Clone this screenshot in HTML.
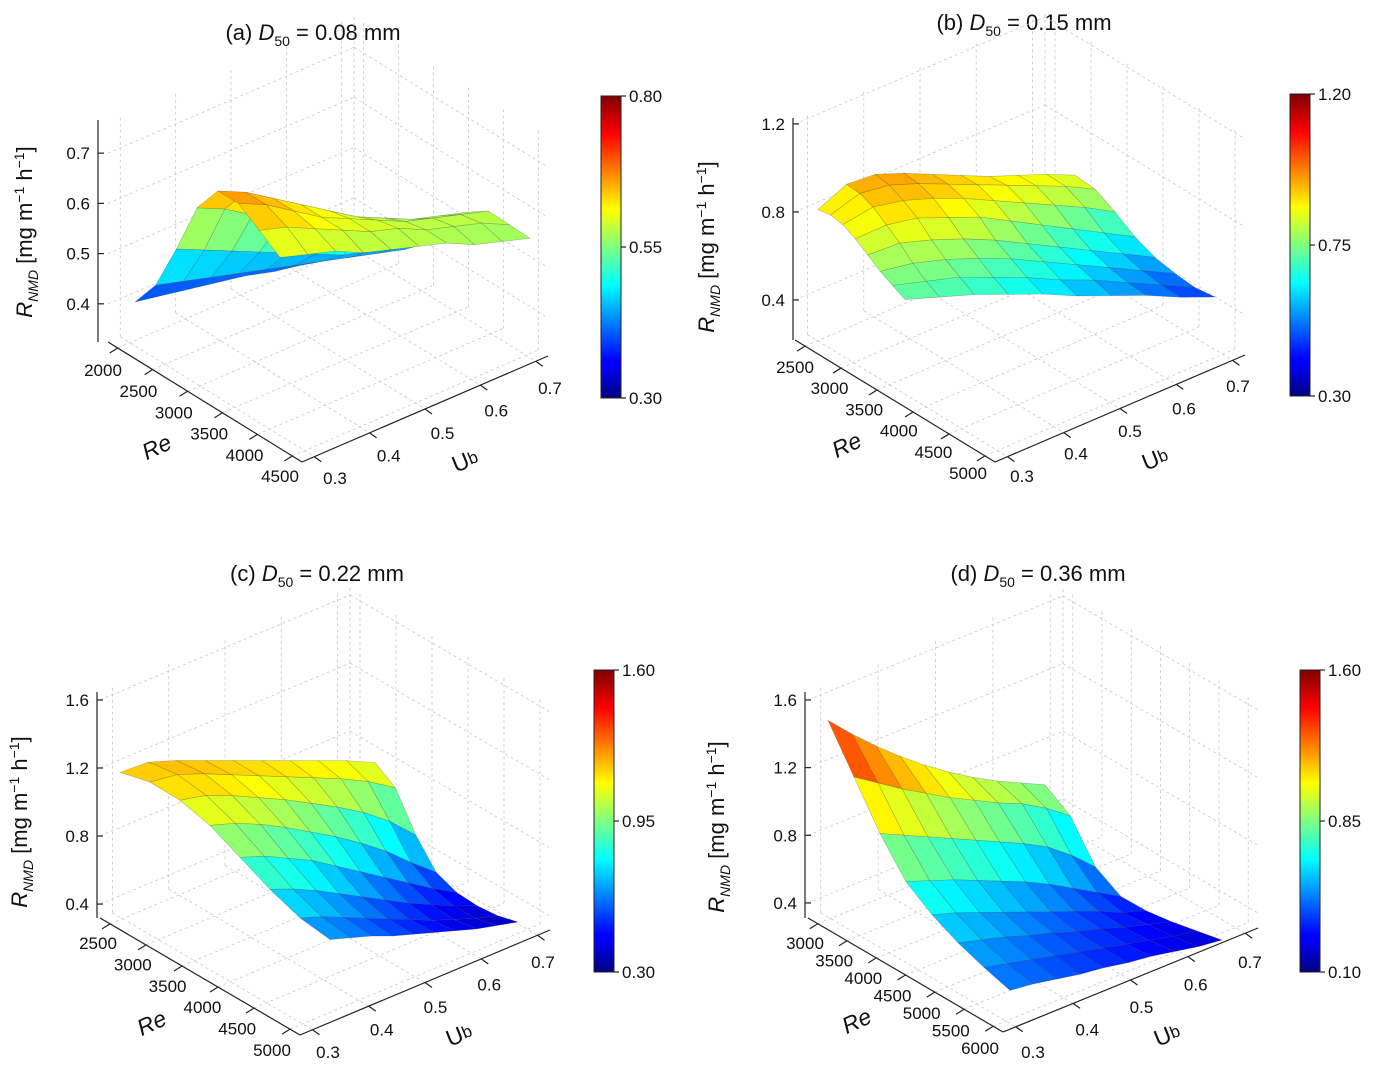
<!DOCTYPE html>
<html><head><meta charset="utf-8">
<style>
html,body{margin:0;padding:0;background:#fff;}
svg{display:block;font-family:"Liberation Sans",sans-serif;}
</style></head>
<body>
<svg id="fig" width="1375" height="1073" viewBox="0 0 1375 1073" xmlns="http://www.w3.org/2000/svg">
<defs>
<linearGradient id="jet" x1="0" y1="1" x2="0" y2="0">
<stop offset="0" stop-color="#00007f"/><stop offset="0.11" stop-color="#0000ff"/>
<stop offset="0.125" stop-color="#0000ff"/><stop offset="0.375" stop-color="#00ffff"/>
<stop offset="0.625" stop-color="#ffff00"/><stop offset="0.875" stop-color="#ff0000"/>
<stop offset="1" stop-color="#7f0000"/>
</linearGradient>
</defs>
<g font-size="22" fill="#111" text-anchor="middle">
<text x="313" y="40">(a) <tspan font-style="italic">D</tspan><tspan font-size="14" dy="6">50</tspan><tspan dy="-6"> = 0.08 mm</tspan></text>
<text x="1024" y="30">(b) <tspan font-style="italic">D</tspan><tspan font-size="14" dy="6">50</tspan><tspan dy="-6"> = 0.15 mm</tspan></text>
<text x="317" y="581">(c) <tspan font-style="italic">D</tspan><tspan font-size="14" dy="6">50</tspan><tspan dy="-6"> = 0.22 mm</tspan></text>
<text x="1038" y="581">(d) <tspan font-style="italic">D</tspan><tspan font-size="14" dy="6">50</tspan><tspan dy="-6"> = 0.36 mm</tspan></text>
</g>
<g id="layer"></g>
</svg>
<script>
// ---- data ----
const reTicksA = ["2000","2500","3000","3500","4000","4500"];
const reTicksB = ["2500","3000","3500","4000","4500","5000"];
const reTicksC = ["2500","3000","3500","4000","4500","5000"];
const reTicksD = ["3000","3500","4000","4500","5000","5500","6000"];
const ubTicks = ["0.3","0.4","0.5","0.6","0.7"];
const zTicksA = [0.4,0.5,0.6,0.7];
const zTicksB = [0.4,0.8,1.2];
const zTicksC = [0.4,0.8,1.2,1.6];
const zTicksD = [0.4,0.8,1.2,1.6];
const cbarA = ["0.80","0.55","0.30"];
const cbarB = ["1.20","0.75","0.30"];
const cbarC = ["1.60","0.95","0.30"];
const cbarD = ["1.60","0.85","0.10"];
const surfA = [
[0.38,0.385,0.39,0.395,0.40,0.40,0.405,0.41,0.41,0.42],
[0.43,0.43,0.43,0.43,0.43,0.43,0.43,0.43,0.43,0.43],
[0.52,0.51,0.50,0.49,0.48,0.47,0.46,0.46,0.46,0.46],
[0.62,0.61,0.59,0.57,0.55,0.53,0.52,0.51,0.50,0.50],
[0.67,0.66,0.64,0.62,0.60,0.58,0.57,0.56,0.56,0.56],
[0.66,0.65,0.63,0.61,0.60,0.59,0.58,0.58,0.58,0.58],
[0.62,0.62,0.61,0.60,0.59,0.59,0.58,0.58,0.58,0.57],
[0.58,0.58,0.58,0.57,0.57,0.57,0.57,0.56,0.56,0.56]];
const surfB = [
[0.82,0.92,0.95,0.94,0.92,0.90,0.88,0.87,0.86,0.84],
[0.84,0.92,0.94,0.93,0.91,0.89,0.87,0.85,0.83,0.80],
[0.84,0.90,0.91,0.90,0.88,0.85,0.82,0.79,0.76,0.72],
[0.82,0.86,0.87,0.85,0.83,0.79,0.75,0.71,0.67,0.63],
[0.79,0.82,0.81,0.79,0.76,0.72,0.68,0.64,0.60,0.56],
[0.76,0.77,0.76,0.74,0.71,0.67,0.63,0.59,0.55,0.51],
[0.74,0.73,0.72,0.69,0.66,0.62,0.59,0.55,0.51,0.47],
[0.72,0.70,0.68,0.65,0.62,0.58,0.55,0.52,0.48,0.45]];
const surfC = [
[1.15,1.20,1.20,1.19,1.18,1.17,1.16,1.15,1.14,1.12],
[1.16,1.19,1.18,1.16,1.14,1.12,1.10,1.08,1.05,1.00],
[1.12,1.13,1.11,1.08,1.05,1.01,0.97,0.92,0.85,0.75],
[1.04,1.03,1.00,0.96,0.91,0.86,0.80,0.73,0.64,0.56],
[0.92,0.90,0.86,0.82,0.76,0.70,0.64,0.58,0.52,0.47],
[0.80,0.77,0.73,0.68,0.63,0.58,0.53,0.49,0.45,0.42],
[0.70,0.67,0.63,0.59,0.55,0.51,0.47,0.44,0.41,0.39],
[0.64,0.61,0.58,0.54,0.51,0.48,0.45,0.42,0.40,0.38]];
const surfD = [
[1.45,1.35,1.26,1.18,1.11,1.05,1.00,0.96,0.93,0.90],
[1.20,1.14,1.08,1.03,0.98,0.94,0.90,0.87,0.82,0.75],
[0.95,0.91,0.87,0.83,0.79,0.75,0.71,0.66,0.58,0.48],
[0.75,0.72,0.69,0.65,0.61,0.57,0.52,0.46,0.40,0.34],
[0.64,0.61,0.57,0.53,0.49,0.45,0.41,0.37,0.32,0.29],
[0.56,0.53,0.50,0.46,0.43,0.39,0.36,0.32,0.29,0.26],
[0.50,0.47,0.44,0.41,0.38,0.35,0.32,0.29,0.26,0.24],
[0.45,0.43,0.40,0.37,0.35,0.32,0.30,0.27,0.24,0.22]];

// ---- layout ----
const panels = [
 {id:"a",surf:surfA,re:reTicksA,zt:zTicksA,cb:cbarA,clim:[0.3,0.8],
  F0:[108,342],F1:[302,462],F2:[548,356],H:222,zr:[0.324,0.766],zx:78,
  reL:[[103,376],[280,482]],ubL:[[335,484],[550,394]],
  S:{A:[135,487],B:[385,450],C:[530,511],D:[280,540],k:487},
  cbx:601,cby:96,reLab:[160,454,-25],ubLab:[468,468,-22],zLab:[32,232]},
 {id:"b",surf:surfB,re:reTicksB,zt:zTicksB,cb:cbarB,clim:[0.3,1.2],
  F0:[795,340],F1:[995,462],F2:[1245,355],H:222,zr:[0.218,1.227],zx:773,
  reL:[[795,373],[968,479]],ubL:[[1022,482],[1238,392]],
  S:{A:[818,390],B:[1075,360],C:[1215,396],D:[905,458],k:220},
  cbx:1290,cby:94,reLab:[850,452,-25],ubLab:[1158,466,-22],zLab:[714,247]},
 {id:"c",surf:surfC,re:reTicksC,zt:zTicksC,cb:cbarC,clim:[0.3,1.6],
  F0:[100,918],F1:[300,1035],F2:[550,930],H:226,zr:[0.318,1.647],zx:77,
  reL:[[98,949],[272,1056]],ubL:[[328,1058],[543,968]],
  S:{A:[120,969],B:[375,954],C:[518,987],D:[330,1049],k:171},
  cbx:594,cby:670,reLab:[155,1030,-25],ubLab:[462,1042,-22],zLab:[27,822]},
 {id:"d",surf:surfD,re:reTicksD,zt:zTicksD,cb:cbarD,clim:[0.1,1.6],
  F0:[808,918],F1:[1003,1032],F2:[1258,928],H:226,zr:[0.311,1.647],zx:785,
  reL:[[805,949],[980,1054]],ubL:[[1033,1058],[1250,968]],
  S:{A:[828,964],B:[1045,936],C:[1222,977],D:[1010,1066],k:168},
  cbx:1300,cby:670,reLab:[860,1028,-25],ubLab:[1170,1042,-22],zLab:[724,827]}
];

const NS="http://www.w3.org/2000/svg";
const layer=document.getElementById("layer");
function mk(tag,attrs,parent){const e=document.createElementNS(NS,tag);for(const k in attrs)e.setAttribute(k,attrs[k]);(parent||layer).appendChild(e);return e;}
function jet(t){t=Math.max(0,Math.min(1,t));const c=x=>Math.round(255*Math.max(0,Math.min(1,1.5-Math.abs(x))));return `rgb(${c(4*t-3)},${c(4*t-2)},${c(4*t-1)})`;}

panels.forEach(p=>{
 const g=mk("g",{});
 
 
 const fp=(u,v)=>[p.F0[0]+u*(p.F1[0]-p.F0[0])+v*(p.F2[0]-p.F1[0]), p.F0[1]+u*(p.F1[1]-p.F0[1])+v*(p.F2[1]-p.F1[1])];
 const zy=z=>(z-p.zr[0])/(p.zr[1]-p.zr[0])*p.H;
 const nR=p.re.length,nU=ubTicks.length;
 const uT=k=>0.05+0.9*k/(nR-1), vT=k=>0.05+0.9*k/(nU-1);
 const grid=mk("g",{stroke:"#c8c8c8","stroke-width":0.8,"stroke-dasharray":"3,3",fill:"none"},g);
 
 
 const ln=(a,b,par)=>mk("line",{x1:a[0],y1:a[1],x2:b[0],y2:b[1]},par);
 for(let k=0;k<nU;k++){const a=fp(0,vT(k));ln(a,[a[0],a[1]-p.H],grid);ln(a,fp(1,vT(k)),grid);}
 for(let k=0;k<nR;k++){const a=fp(uT(k),1);ln(a,[a[0],a[1]-p.H],grid);ln(fp(uT(k),0),a,grid);}
 p.zt.forEach(z=>{const a=fp(0,0),b=fp(0,1),c=fp(1,1),h=zy(z);ln([a[0],a[1]-h],[b[0],b[1]-h],grid);ln([b[0],b[1]-h],[c[0],c[1]-h],grid);});
 const b3=fp(0,1);ln([b3[0],b3[1]],[b3[0],b3[1]-p.H],grid);
 const ax=mk("g",{stroke:"#222","stroke-width":1.2,fill:"none"},g);
 
 
 const o=fp(0,0);
 ln([p.zx+20,o[1]],[p.zx+20,o[1]-p.H],ax);
 p.zt.forEach(z=>{const y=o[1]-zy(z);ln([p.zx+20,y],[p.zx+26,y],ax);
  const t=mk("text",{x:p.zx+12,y:y+6,"font-size":17,"text-anchor":"end",fill:"#111",stroke:"none"},g);t.textContent=z.toFixed(1);
  
  });
 ln(fp(0,0),fp(1,0),ax);ln(fp(1,0),fp(1,1),ax);
 p.re.forEach((s,k)=>{const a=fp(uT(k),0);ln(a,[a[0]-8,a[1]+5],ax);
  const f=k/(nR-1),x=p.reL[0][0]+f*(p.reL[1][0]-p.reL[0][0]),y=p.reL[0][1]+f*(p.reL[1][1]-p.reL[0][1]);
  const t=mk("text",{x:x,y:y,"font-size":17,"text-anchor":"middle",fill:"#111"},g);t.textContent=s;
  
  });
 ubTicks.forEach((s,k)=>{const a=fp(1,vT(k));ln(a,[a[0]+7,a[1]+5],ax);
  const f=k/(nU-1),x=p.ubL[0][0]+f*(p.ubL[1][0]-p.ubL[0][0]),y=p.ubL[0][1]+f*(p.ubL[1][1]-p.ubL[0][1]);
  const t=mk("text",{x:x,y:y,"font-size":17,"text-anchor":"middle",fill:"#111"},g);t.textContent=s;
  
  });
 const S=p.S,R=p.surf.length,C=p.surf[0].length;
 const base=(u,v)=>[(1-u)*(1-v)*S.A[0]+(1-u)*v*S.B[0]+u*v*S.C[0]+u*(1-v)*S.D[0],(1-u)*(1-v)*S.A[1]+(1-u)*v*S.B[1]+u*v*S.C[1]+u*(1-v)*S.D[1]];
 const P=(i,j)=>{const b=base(i/(R-1),j/(C-1));return [b[0],b[1]-p.surf[i][j]*S.k];};
 const quads=[];
 for(let i=0;i<R-1;i++)for(let j=0;j<C-1;j++){
  const pts=[P(i,j),P(i,j+1),P(i+1,j+1),P(i+1,j)];
  const zm=(p.surf[i][j]+p.surf[i][j+1]+p.surf[i+1][j+1]+p.surf[i+1][j])/4;
  quads.push({pts,zm,d:base((i+0.5)/(R-1),(j+0.5)/(C-1))[1]});}
 quads.sort((a,b)=>a.d-b.d);
 const sg=mk("g",{},g);
 
 
 quads.forEach(q=>{const col=jet((q.zm-p.clim[0])/(p.clim[1]-p.clim[0]));
  const e=mk("polygon",{points:q.pts.map(a=>a.join(",")).join(" "),fill:col,stroke:"rgba(60,60,60,0.35)","stroke-width":0.6},sg);
  
  });
 const cb=mk("rect",{x:p.cbx,y:p.cby,width:20,height:302,fill:"url(#jet)",stroke:"#222","stroke-width":1},g);
 
 
 p.cb.forEach((s,k)=>{const y=p.cby+k*151;ln([p.cbx+20,y],[p.cbx+25,y],ax);
  const t=mk("text",{x:p.cbx+28,y:y+6,"font-size":17,fill:"#111"},g);t.textContent=s;
  
  });
 const rt=mk("text",{x:p.reLab[0],y:p.reLab[1],"font-size":23,"font-style":"italic","text-anchor":"middle",fill:"#111",transform:`rotate(${p.reLab[2]} ${p.reLab[0]} ${p.reLab[1]})`},g);rt.textContent="Re";
 
 
 const ut=mk("text",{x:p.ubLab[0],y:p.ubLab[1],"font-size":23,"text-anchor":"middle",fill:"#111",transform:`rotate(${p.ubLab[2]} ${p.ubLab[0]} ${p.ubLab[1]})`},g);
 ut.innerHTML='U<tspan font-size="17" dy="-2">b</tspan>';
 
 
 const zt=mk("text",{x:p.zLab[0],y:p.zLab[1],"font-size":22,"text-anchor":"middle",fill:"#111",transform:`rotate(-90 ${p.zLab[0]} ${p.zLab[1]})`},g);
 zt.innerHTML='<tspan font-style="italic">R</tspan><tspan font-size="14" font-style="italic" dy="6">NMD</tspan><tspan dy="-6"> [mg m</tspan><tspan font-size="14" dy="-8">−1</tspan><tspan dy="8"> h</tspan><tspan font-size="14" dy="-8">−1</tspan><tspan dy="8">]</tspan>';
 
 
});
</script>
</body></html>
